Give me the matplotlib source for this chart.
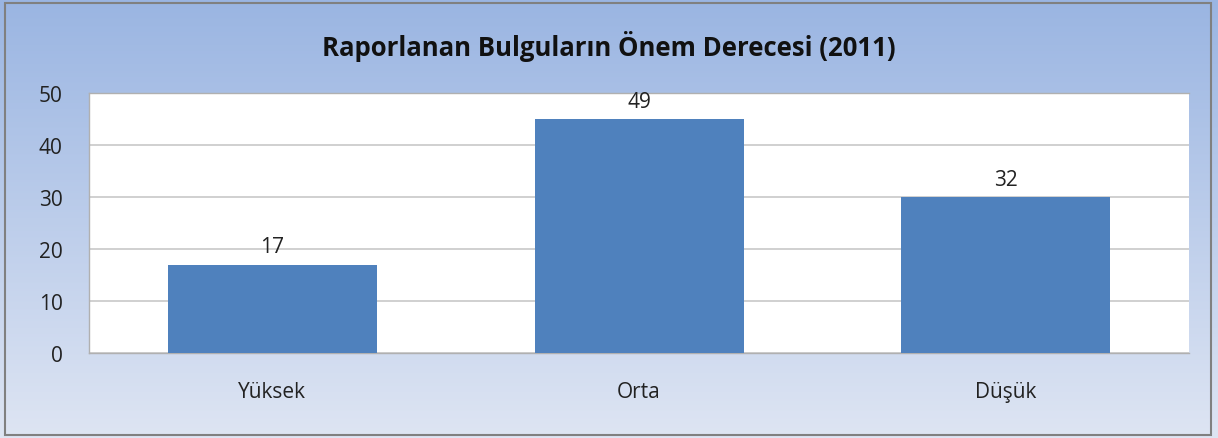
import numpy as np
import matplotlib.pyplot as plt
from matplotlib.patches import Rectangle

categories = ['Yüksek', 'Orta', 'Düşük']
bar_heights = [17, 45, 30]
bar_labels = ['17', '49', '32']
yticks = [0, 10, 20, 30, 40, 50]

plt.rcParams['font.family'] = ['Open Sans', 'DejaVu Sans']

fig = plt.figure(figsize=(12.18, 4.39), dpi=100)

# gradient background
bg = fig.add_axes([0, 0, 1, 1], zorder=0)
top = np.array([0x9a, 0xb5, 0xe2]) / 255
bottom = np.array([0xde, 0xe5, 0xf3]) / 255
t = np.linspace(0, 1, 256)[:, None]
grad = top * (1 - t) + bottom * t
bg.imshow(grad[:, None, :], aspect='auto', extent=[0, 1, 0, 1], origin='upper')
bg.add_patch(Rectangle((0.004, 0.007), 0.99, 0.985, fill=False,
                       edgecolor='#808080', linewidth=1.5, transform=bg.transAxes))
bg.set_xlim(0, 1)
bg.set_ylim(0, 1)
bg.axis('off')

ax = fig.add_axes([89 / 1218, 85 / 439, 1100 / 1218, 260 / 439], zorder=1)
ax.set_facecolor('white')
x = np.arange(len(categories))
bars = ax.bar(x, bar_heights, width=0.57, color='#4f81bd', zorder=3)
for b, lab in zip(bars, bar_labels):
    ax.text(b.get_x() + b.get_width() / 2, min(b.get_height() + 1.4, 47.2), lab,
            ha='center', va='bottom', fontsize=15, color='#222222', zorder=4,
            clip_on=False)

ax.set_xlim(-0.5, 2.5)
ax.set_ylim(0, 50)
ax.set_yticks(yticks)
ax.set_xticks(x)
ax.set_xticklabels(categories)
ax.yaxis.grid(True, color='#c8c8c8', linewidth=1.2, zorder=0)
ax.tick_params(axis='both', length=0, labelsize=15, colors='#222222')
ax.tick_params(axis='x', pad=20)
ax.tick_params(axis='y', pad=19)
for s in ax.spines.values():
    s.set_color('#b0b0b0')
    s.set_linewidth(1)
ax.spines['right'].set_visible(False)

fig.text(0.5, 1 - 46 / 439, 'Raporlanan Bulguların Önem Derecesi (2011)',
         ha='center', va='center', fontsize=18.5, fontweight='bold', color='#111111')

fig.savefig('out.png', dpi=100)
